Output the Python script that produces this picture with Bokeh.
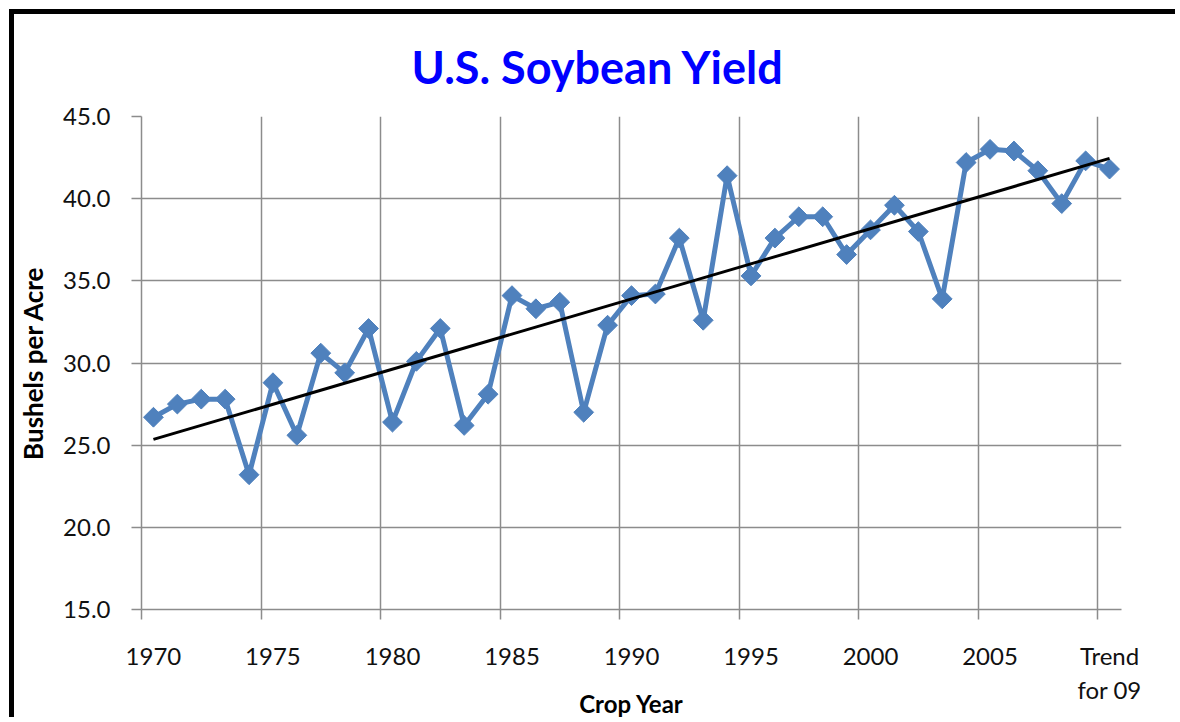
import numpy as np
from bokeh.plotting import figure
from bokeh.models import Range1d, FixedTicker, NumeralTickFormatter
from bokeh.embed import file_html
from bokeh.resources import INLINE

# ---- data ----
years = [str(y) for y in range(1970, 2010)]
categories = years + ["Trend for 09"]
yields = [26.7, 27.5, 27.8, 27.8, 23.2, 28.8, 25.6, 30.6, 29.4, 32.1,
          26.4, 30.1, 32.1, 26.2, 28.1, 34.1, 33.3, 33.7, 27.0, 32.3,
          34.1, 34.2, 37.6, 32.6, 41.4, 35.3, 37.6, 38.9, 38.9, 36.6,
          38.1, 39.6, 38.0, 33.9, 42.2, 43.0, 42.9, 41.7, 39.7, 42.3,
          41.8]
trend_cats = ["1970", "Trend for 09"]
trend_vals = [25.35, 42.45]
y_ticks = [15, 20, 25, 30, 35, 40, 45]
label_step = 5

BLUE = "#4F81BD"
GRID = "#8c8c8c"
FONT = "Lato"

x = list(range(len(categories)))
tx = [categories.index(c) for c in trend_cats]

p = figure(width=1166, height=708, output_backend="svg", toolbar_location=None,
           x_range=Range1d(-0.5, len(categories) - 0.5), y_range=Range1d(15, 45),
           min_border_left=125, min_border_right=59, min_border_top=100,
           min_border_bottom=113)
p.styles = {"border-left": "5px solid black", "border-top": "5px solid black",
            "position": "relative", "left": "9px", "top": "9px"}
p.outline_line_color = None
p.background_fill_color = "white"
p.border_fill_color = "white"

# title
p.title.text = "U.S. Soybean Yield"
p.title.text_font = FONT
p.title.text_font_size = "45px"
p.title.text_font_style = "bold"
p.title.text_color = "#0000FF"
p.title.align = "left"
p.title.offset = 270
p.title.standoff = 46

# x axis: labels at category centers, ticks/grid at category boundaries
major = [i for i in x if i % label_step == 0]
minor = [i - 0.5 for i in major]
xt = FixedTicker(ticks=major, minor_ticks=minor)
p.xaxis.ticker = xt
p.xaxis.major_label_overrides = {i: categories[i].replace(" for", "\nfor") for i in major}
p.xaxis.major_tick_line_color = None
p.xaxis.major_tick_out = 10
p.xaxis.major_tick_in = 0
p.xaxis.minor_tick_out = 10
p.xaxis.minor_tick_in = 0
p.xaxis.minor_tick_line_color = GRID
p.xaxis.minor_tick_line_width = 1.5
p.xaxis.axis_line_color = GRID
p.xaxis.axis_line_width = 1.5
p.xaxis.major_label_standoff = 21
p.xaxis.major_label_text_font = FONT
p.xaxis.major_label_text_font_size = "24px"
p.xaxis.major_label_text_color = "#111111"
p.xaxis.axis_label = "Crop Year"
p.xaxis.axis_label_text_font = FONT
p.xaxis.axis_label_text_font_size = "24px"
p.xaxis.axis_label_text_font_style = "bold"
p.xaxis.axis_label_text_color = "#000000"
p.xaxis.axis_label_standoff = -18
p.xgrid.grid_line_color = None
p.xgrid.minor_grid_line_color = GRID
p.xgrid.minor_grid_line_width = 1.5

# y axis
p.yaxis.ticker = FixedTicker(ticks=y_ticks)
p.yaxis.formatter = NumeralTickFormatter(format="0.0")
p.yaxis.minor_tick_line_color = None
p.yaxis.major_tick_out = 10
p.yaxis.major_tick_in = 0
p.yaxis.major_tick_line_color = GRID
p.yaxis.major_tick_line_width = 1.5
p.yaxis.axis_line_color = GRID
p.yaxis.axis_line_width = 1.5
p.yaxis.major_label_standoff = 21
p.yaxis.major_label_text_font = FONT
p.yaxis.major_label_text_font_size = "24px"
p.yaxis.major_label_text_color = "#111111"
p.yaxis.axis_label = "Bushels per Acre"
p.yaxis.axis_label_text_font = FONT
p.yaxis.axis_label_text_font_size = "26px"
p.yaxis.axis_label_text_font_style = "bold"
p.yaxis.axis_label_text_color = "#000000"
p.yaxis.axis_label_standoff = 11
p.ygrid.grid_line_color = GRID
p.ygrid.grid_line_width = 1.5

# series
p.line(x, yields, line_color=BLUE, line_width=5)
p.scatter(x, yields, marker="square", angle=np.pi / 4, size=14,
          fill_color=BLUE, line_color=BLUE)
p.line(tx, trend_vals, line_color="black", line_width=3)

open("out.html", "w").write(file_html(p, INLINE))
